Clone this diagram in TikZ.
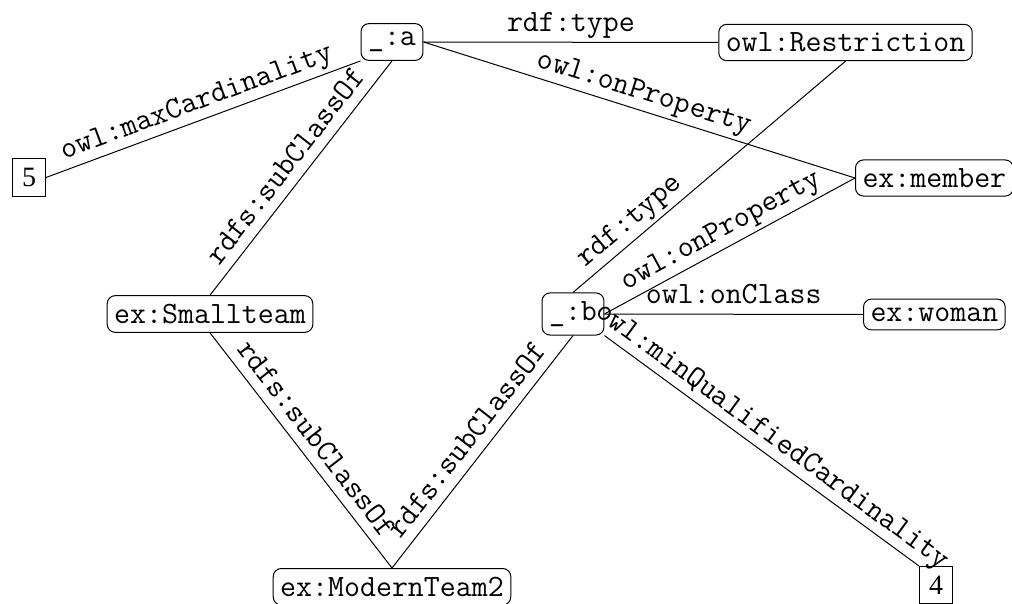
\documentclass[tikz,border=0pt]{standalone}
\usepackage{fontspec}
\setmainfont{Liberation Serif}
\begin{document}
\begin{tikzpicture}[x=1pt,y=-1pt,
  res/.style={draw, rounded corners=8pt, line width=1pt,
    font=\ttfamily\fontsize{31}{34}\selectfont, inner xsep=7pt, inner ysep=8.5pt},
  lit/.style={draw, line width=1pt, font=\fontsize{28}{30}\selectfont, inner sep=9.5pt},
  lbl/.style={font=\ttfamily\fontsize{31}{34}\selectfont, inner sep=5pt,
    text depth=5pt, midway, sloped, above},
  edge/.style={line width=1pt}]
\useasboundingbox (0,0) rectangle (1012,604);
\node[res] (a) at (392,42) {\_:a};
\node[res] (R) at (845.5,42.5) {owl:Restriction};
\node[res, anchor=west] (m) at (855,178) {ex:member};
\node[res, anchor=west] (w) at (863,314.5) {ex:woman};
\node[res] (b) at (573,314) {\_:b};
\node[res] (s) at (210,314) {ex:Smallteam};
\node[res, anchor=north] (mt) at (392,568) {ex:ModernTeam2};
\node[lit] (n5) at (29,177.5) {5};
\node[lit, anchor=north west] (n4) at (919,566) {4};
\draw[edge] (n5.east) -- (a.south west) node[lbl] {owl:maxCardinality};
\draw[edge] (s.north) -- (a.south) node[lbl] {rdfs:subClassOf};
\draw[edge] (a.east) -- (R.west) node[lbl] {rdf:type};
\draw[edge] (a.east) -- (m.west) node[lbl] {owl:onProperty};
\draw[edge] (b.north) -- (R.south) node[lbl, pos=0.25] {rdf:type};
\draw[edge] (b.east) -- (m.west) node[lbl] {owl:onProperty};
\draw[edge] (b.east) -- (w.west) node[lbl] {owl:onClass};
\draw[edge] (b.south east) -- (n4.north west) node[lbl] {owl:minQualifiedCardinality};
\draw[edge] (s.south) -- (mt.north) node[lbl] {rdfs:subClassOf};
\draw[edge] (mt.north) -- (b.south) node[lbl] {rdfs:subClassOf};
\end{tikzpicture}
\end{document}
